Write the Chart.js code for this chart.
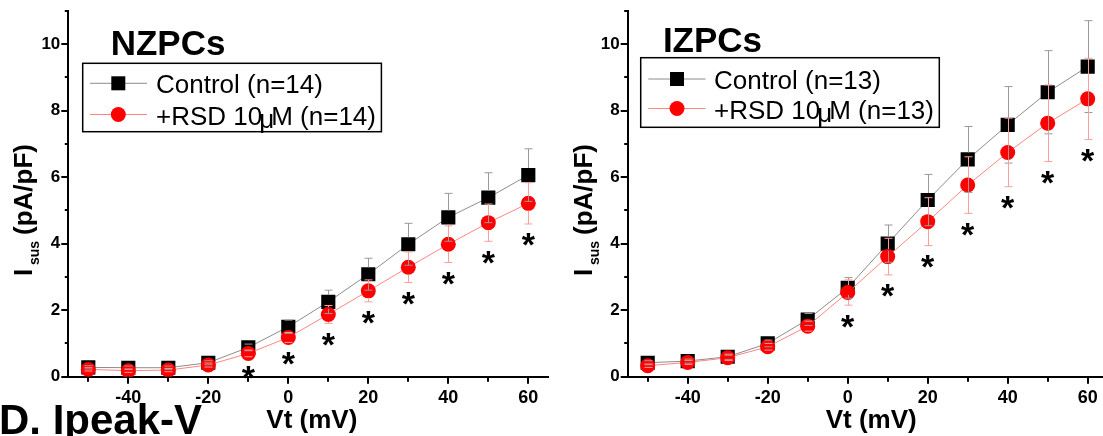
<!DOCTYPE html>
<html>
<head>
<meta charset="utf-8">
<script src="https://cdn.jsdelivr.net/npm/chart.js@4.4.0/dist/chart.umd.min.js"></script>
<style>
html, body { margin: 0; padding: 0; background: #fff; overflow: hidden; width: 1103px; height: 436px; }
.panel { position: absolute; top: 0; width: 560px; height: 436px; }
</style>
</head>
<body>
<div class="panel" style="left:0"><canvas id="nzpc" width="560" height="436"></canvas></div>
<div class="panel" style="left:560px"><canvas id="izpc" width="560" height="436"></canvas></div>
<script>
const voltages = [-50, -40, -30, -20, -10, 0, 10, 20, 30, 40, 50, 60];

// NZPCs
const nzControl = [0.28, 0.27, 0.27, 0.42, 0.88, 1.5, 2.25, 3.08, 3.98, 4.79, 5.38, 6.06];
const nzControlSem = [0.05, 0.05, 0.05, 0.06, 0.1, 0.2, 0.35, 0.48, 0.63, 0.72, 0.75, 0.79];
const nzRsd = [0.22, 0.18, 0.2, 0.35, 0.7, 1.18, 1.87, 2.58, 3.29, 3.98, 4.63, 5.21];
const nzRsdSem = [0.05, 0.05, 0.05, 0.06, 0.1, 0.15, 0.27, 0.33, 0.46, 0.55, 0.56, 0.62];
const nzSignificant = [0, 0, 0, 0, 1, 1, 1, 1, 1, 1, 1, 1];

// IZPCs
const izControl = [0.42, 0.47, 0.6, 1.0, 1.72, 2.67, 4.0, 5.31, 6.53, 7.57, 8.55, 9.32];
const izControlSem = [0.06, 0.06, 0.08, 0.1, 0.18, 0.31, 0.56, 0.77, 0.99, 1.15, 1.25, 1.38];
const izRsd = [0.33, 0.43, 0.57, 0.9, 1.52, 2.53, 3.61, 4.66, 5.76, 6.74, 7.62, 8.35];
const izRsdSem = [0.05, 0.06, 0.08, 0.1, 0.15, 0.38, 0.55, 0.72, 0.85, 1.03, 1.15, 1.22];
const izSignificant = [0, 0, 0, 0, 0, 1, 1, 1, 1, 1, 1, 1];

const xTickValues = [-50, -40, -30, -20, -10, 0, 10, 20, 30, 40, 50, 60];
const xTickLabels = ['', '-40', '', '-20', '', '0', '', '20', '', '40', '', '60'];
const yTickValues = [0, 1, 2, 3, 4, 5, 6, 7, 8, 9, 10, 11];
const yTickLabels = ['0', '', '2', '', '4', '', '6', '', '8', '', '10', ''];

const FONT = "'Liberation Sans', Arial, Helvetica, sans-serif";

function points(ys) {
    return voltages.map((v, i) => ({ x: v, y: ys[i] }));
}

// error bars (skipping the own marker) + significance stars
const errorBars = {
    id: 'errorBars',
    afterDatasetsDraw(chart) {
        const ctx = chart.ctx;
        const ys = chart.scales.y;
        chart.data.datasets.forEach((ds, i) => {
            const meta = chart.getDatasetMeta(i);
            const gap = ds.pointStyle === 'rect' ? 7 : 7.5;
            ctx.save();
            ctx.strokeStyle = ds.errorColor;
            ctx.lineWidth = 1;
            meta.data.forEach((pt, j) => {
                const v = ds.data[j].y, e = ds.sem[j];
                const x = Math.round(pt.x) + 0.5;
                const top = ys.getPixelForValue(v + e);
                const bot = ys.getPixelForValue(v - e);
                ctx.beginPath();
                if (top < pt.y - gap) { ctx.moveTo(x, top); ctx.lineTo(x, pt.y - gap); }
                if (bot > pt.y + gap) { ctx.moveTo(x, pt.y + gap); ctx.lineTo(x, bot); }
                ctx.moveTo(x - 4, top); ctx.lineTo(x + 4, top);
                ctx.moveTo(x - 4, bot); ctx.lineTo(x + 4, bot);
                ctx.stroke();
            });
            if (ds.stars) {
                ctx.fillStyle = '#000';
                ctx.font = 'bold 34px ' + FONT;
                ctx.textAlign = 'center';
                ctx.textBaseline = 'alphabetic';
                meta.data.forEach((pt, j) => {
                    if (!ds.stars[j]) return;
                    const bot = ys.getPixelForValue(ds.data[j].y - ds.sem[j]);
                    ctx.fillText('*', pt.x, bot + 13 + 0.57 * 34);
                });
            }
            ctx.restore();
        });
    }
};

// tick marks, titles, boxed legend, axis titles
const decor = {
    id: 'decor',
    afterDraw(chart, args, opts) {
        const ctx = chart.ctx;
        const xs = chart.scales.x, ys = chart.scales.y;
        const area = chart.chartArea;
        ctx.save();
        ctx.strokeStyle = '#000';
        ctx.lineWidth = 2;
        ctx.beginPath();
        xTickValues.forEach((v, i) => {
            const px = Math.round(xs.getPixelForValue(v));
            const len = xTickLabels[i] ? 7 : 5;
            ctx.moveTo(px, area.bottom); ctx.lineTo(px, area.bottom + len);
        });
        yTickValues.forEach((v, i) => {
            const py = Math.round(ys.getPixelForValue(v));
            const len = yTickLabels[i] ? 7 : 3.5;
            ctx.moveTo(area.left, py); ctx.lineTo(area.left - len, py);
        });
        ctx.stroke();

        ctx.fillStyle = '#000';
        ctx.textAlign = 'left';
        ctx.textBaseline = 'alphabetic';

        // panel title
        ctx.font = 'bold 35px ' + FONT;
        ctx.fillText(opts.title, opts.titleX, opts.titleY);

        // legend box
        const lg = opts.legend;
        ctx.lineWidth = 1.5;
        ctx.strokeRect(lg.left, lg.top, lg.right - lg.left, lg.bottom - lg.top);
        chart.data.datasets.forEach((ds, i) => {
            const ry = lg.rows[i];
            ctx.strokeStyle = ds.borderColor;
            ctx.lineWidth = 1;
            ctx.beginPath();
            ctx.moveTo(lg.lineFrom, ry); ctx.lineTo(lg.lineTo, ry);
            ctx.stroke();
            ctx.fillStyle = ds.pointBackgroundColor;
            if (ds.pointStyle === 'rect') {
                ctx.fillRect(lg.marker - 7, ry - 7, 14, 14);
            } else {
                ctx.beginPath();
                ctx.arc(lg.marker, ry, 7.5, 0, Math.PI * 2);
                ctx.fill();
            }
            ctx.fillStyle = '#000';
            ctx.font = '26px ' + FONT;
            let tx = lg.text;
            ds.labelParts.forEach(part => {
                if (part === 'μ') {
                    tx -= 3;
                    ctx.fillText(part, tx, ry + 13);
                    tx += ctx.measureText(part).width - 3;
                } else {
                    ctx.fillText(part, tx, ry + 10);
                    tx += ctx.measureText(part).width;
                }
            });
        });

        // y axis title with subscript
        ctx.save();
        ctx.translate(32.3, 276);
        ctx.rotate(-Math.PI / 2);
        ctx.font = 'bold 26px ' + FONT;
        ctx.fillText('I', 0, 0);
        ctx.font = 'bold 14px ' + FONT;
        ctx.fillText('sus', 11, 7);
        ctx.font = 'bold 26px ' + FONT;
        ctx.fillText('(pA/pF)', 41, 0);
        ctx.restore();

        // x axis title
        ctx.font = 'bold 26px ' + FONT;
        ctx.textAlign = 'center';
        ctx.fillText('Vt (mV)', (area.left + area.right) / 2 + 3.5, 428);

        if (opts.caption) {
            ctx.textAlign = 'left';
            ctx.font = 'bold 42px ' + FONT;
            ctx.fillText(opts.caption, -1, 433.5);
        }
        ctx.restore();
    }
};

function makeChart(id, control, controlSem, rsd, rsdSem, sig, n, axisLeft, padRight, deco) {
    new Chart(document.getElementById(id).getContext('2d'), {
        type: 'scatter',
        data: {
            datasets: [{
                label: 'Control (n=' + n + ')',
                labelParts: ['Control (n=' + n + ')'],
                data: points(control),
                sem: controlSem,
                showLine: true,
                borderColor: '#8c8c8c',
                borderWidth: 1,
                errorColor: '#9a9a9a',
                pointStyle: 'rect',
                pointRadius: 10,
                pointBackgroundColor: '#000',
                pointBorderColor: '#000',
                pointBorderWidth: 0,
                order: 1
            }, {
                label: '+RSD 10μM (n=' + n + ')',
                labelParts: ['+RSD 10', 'μ', 'M (n=' + n + ')'],
                data: points(rsd),
                sem: rsdSem,
                stars: sig,
                showLine: true,
                borderColor: '#ff8585',
                borderWidth: 1,
                errorColor: '#ff9c9c',
                pointStyle: 'circle',
                pointRadius: 7.5,
                pointBackgroundColor: '#ff0000',
                pointBorderColor: '#ff0000',
                pointBorderWidth: 0,
                order: 0
            }]
        },
        options: {
            responsive: false,
            animation: false,
            layout: { padding: { top: 10.7, right: padRight, left: 0, bottom: 0 } },
            scales: {
                x: {
                    type: 'linear', min: -55, max: 65,
                    afterBuildTicks: s => { s.ticks = xTickValues.map(v => ({ value: v })); },
                    afterFit: s => { s.height = 59.3; s.paddingLeft = 0; s.paddingRight = 0; },
                    grid: { display: false, drawTicks: false },
                    border: { display: true, color: '#000', width: 2 },
                    ticks: {
                        padding: 11,
                        color: '#000',
                        font: { family: FONT, size: 18, weight: 'bold' },
                        maxRotation: 0, autoSkip: false,
                        callback: v => xTickLabels[xTickValues.indexOf(v)]
                    }
                },
                y: {
                    type: 'linear', min: 0, max: 11,
                    afterBuildTicks: s => { s.ticks = yTickValues.map(v => ({ value: v })); },
                    afterFit: s => { s.width = axisLeft; s.paddingTop = 0; s.paddingBottom = 0; },
                    grid: { display: false, drawTicks: false },
                    border: { display: true, color: '#000', width: 2 },
                    ticks: {
                        padding: 8,
                        color: '#000',
                        font: { family: FONT, size: 17, weight: 'bold' },
                        autoSkip: false,
                        callback: v => yTickLabels[yTickValues.indexOf(v)]
                    }
                }
            },
            plugins: {
                legend: { display: false },
                tooltip: { enabled: false },
                decor: deco
            }
        },
        plugins: [errorBars, decor]
    });
}

makeChart('nzpc', nzControl, nzControlSem, nzRsd, nzRsdSem, nzSignificant, 14, 68.3, 11.7, {
    title: 'NZPCs', titleX: 110.7, titleY: 55,
    legend: { left: 82.7, top: 63.3, right: 381.4, bottom: 131.7, rows: [83.3, 114.5],
              lineFrom: 90, lineTo: 147, marker: 118.3, text: 156 },
    caption: 'D. Ipeak-V'
});

makeChart('izpc', izControl, izControlSem, izRsd, izRsdSem, izSignificant, 13, 67.7, 12.3, {
    title: 'IZPCs', titleX: 102.9, titleY: 51.7,
    legend: { left: 80.7, top: 57.7, right: 379.3, bottom: 127.3, rows: [79, 108.5],
              lineFrom: 88.3, lineTo: 145.5, marker: 117, text: 154 }
});
</script>
</body>
</html>
